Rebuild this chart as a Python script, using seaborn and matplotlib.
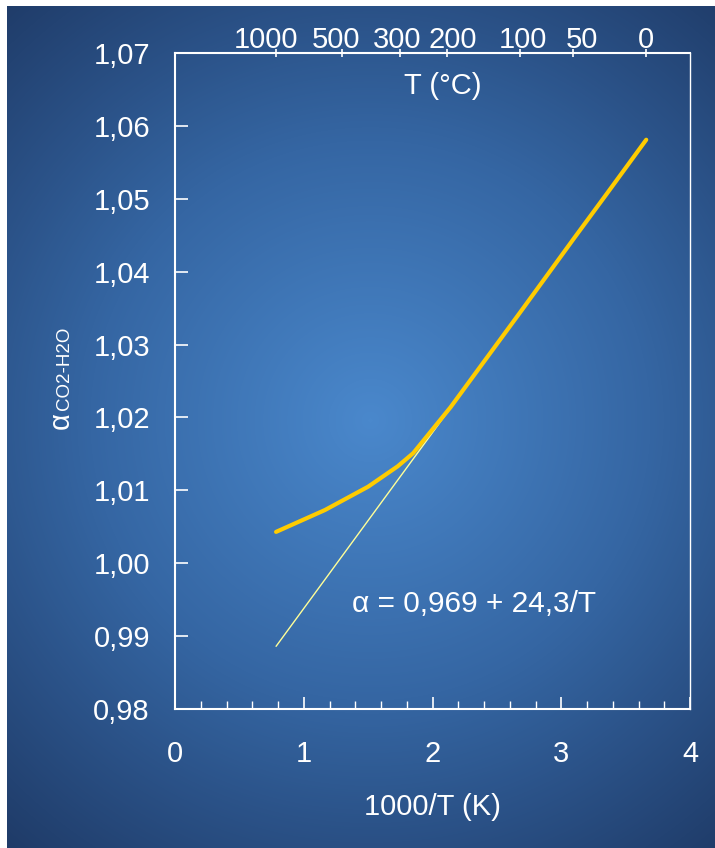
import numpy as np
import pandas as pd
import matplotlib
matplotlib.use("Agg")
import matplotlib.pyplot as plt
import matplotlib.transforms as mtransforms
from matplotlib.colors import LinearSegmentedColormap
from matplotlib.ticker import MultipleLocator
import seaborn as sns

# fractionation curve (x = 1000/T in K)
curve_x = [0.785, 1.165, 1.50, 1.73, 1.85, 2.14, 2.36, 2.68, 3.10, 3.35, 3.66]
curve_alpha = [1.0043, 1.0073, 1.0105, 1.0133, 1.0151, 1.0214, 1.0267, 1.0344, 1.0446, 1.0506, 1.0581]

# linear relation alpha = 0,969 + 24,3/T
line_x = [0.785, 3.66]
line_alpha = [0.9886, 1.0580]

y_ticks = [0.98, 0.99, 1.00, 1.01, 1.02, 1.03, 1.04, 1.05, 1.06, 1.07]
y_tick_labels = ["0,98", "0,99", "1,00", "1,01", "1,02", "1,03", "1,04", "1,05", "1,06", "1,07"]
x_ticks = [0, 1, 2, 3, 4]
top_ticks_C = [1000, 500, 300, 200, 100, 50, 0]

equation = "α = 0,969 + 24,3/T"

sns.set_style("white")
plt.rcParams["font.family"] = ["Liberation Sans", "DejaVu Sans"]

W, H = 715, 848
fig = plt.figure(figsize=(W / 100, H / 100), dpi=100, facecolor="white")

# radial gradient background
bg = fig.add_axes([7 / W, 0, 1 - 7 / W, 1 - 6 / H])
gx, gy = np.meshgrid(np.arange(7, W), np.arange(6, H))
r = np.clip(np.hypot(gx - 370, gy - 420) / 560, 0, 1)
cmap = LinearSegmentedColormap.from_list("bg", ["#4a88cc", "#3566a3", "#1f3b68"])
bg.imshow(r, cmap=cmap, aspect="auto", vmin=0, vmax=1, interpolation="bilinear")
bg.axis("off")

ax = fig.add_axes([175 / W, 1 - 709 / H, (690 - 175) / W, (709 - 53) / H])
ax.patch.set_alpha(0)

df_curve = pd.DataFrame({"x": curve_x, "alpha": curve_alpha})
df_line = pd.DataFrame({"x": line_x, "alpha": line_alpha})
sns.lineplot(data=df_line, x="x", y="alpha", ax=ax, color="#ffff99", lw=1.0)
sns.lineplot(data=df_curve, x="x", y="alpha", ax=ax, color="#ffcc00", lw=3.0)

ax.set_xlim(0, 4)
ax.set_ylim(0.98, 1.07)
ax.set_xticks(x_ticks)
ax.set_xticklabels([str(v) for v in x_ticks])
ax.xaxis.set_minor_locator(MultipleLocator(0.2))
ax.set_yticks(y_ticks)
ax.set_yticklabels(y_tick_labels)

for s in ax.spines.values():
    s.set_color("white")
    s.set_linewidth(1.5)
ax.spines["right"].set_linewidth(1.0)

ax.tick_params(axis="x", which="major", direction="in", length=9, width=1.2,
               colors="white", labelsize=21, pad=22, bottom=True, top=False)
ax.tick_params(axis="x", which="minor", direction="in", length=6, width=1.0,
               colors="white", bottom=True, top=False)
ax.tick_params(axis="y", which="major", direction="in", length=9, width=1.2,
               colors="white", labelsize=21, pad=18, left=True, right=False)

ax.set_xlabel("1000/T (K)", color="white", fontsize=21, labelpad=18)
ax.set_ylabel("")

# top axis in degrees Celsius, placed at 1000/T(K)
top = ax.twiny()
top.set_xlim(ax.get_xlim())
top.set_xticks([1000.0 / (t + 273.15) for t in top_ticks_C])
top.set_xticklabels([str(v) for v in top_ticks_C])
top.tick_params(axis="x", direction="inout", length=6, width=1.2, colors="white",
                labelsize=21, pad=-4)
for s in top.spines.values():
    s.set_visible(False)
top.grid(False)

# small horizontal shifts of the top labels, as in the original slide
label_shift_px = [-10, -5, -3, 6, 3, 9, 0]
for lab, dx in zip(top.get_xticklabels(), label_shift_px):
    lab.set_transform(lab.get_transform() +
                      mtransforms.ScaledTranslation(dx / 100, 0, fig.dpi_scale_trans))

ax.text(0.52, 0.95, "T (°C)", transform=ax.transAxes, color="white",
        fontsize=21, ha="center", va="center")

ax.text(1.375, 0.9944, equation, color="white", fontsize=21.5, ha="left", va="center")

# y label: alpha with small CO2-H2O
fig.text(69 / W, 1 - 429 / H, "α", color="white", fontsize=21, rotation=90,
         rotation_mode="anchor", ha="left", va="baseline")
fig.text(69 / W, 1 - 410 / H, "CO2-H2O", color="white", fontsize=13.5, rotation=90,
         rotation_mode="anchor", ha="left", va="baseline")

fig.savefig("out.png", dpi=100, facecolor="white")
